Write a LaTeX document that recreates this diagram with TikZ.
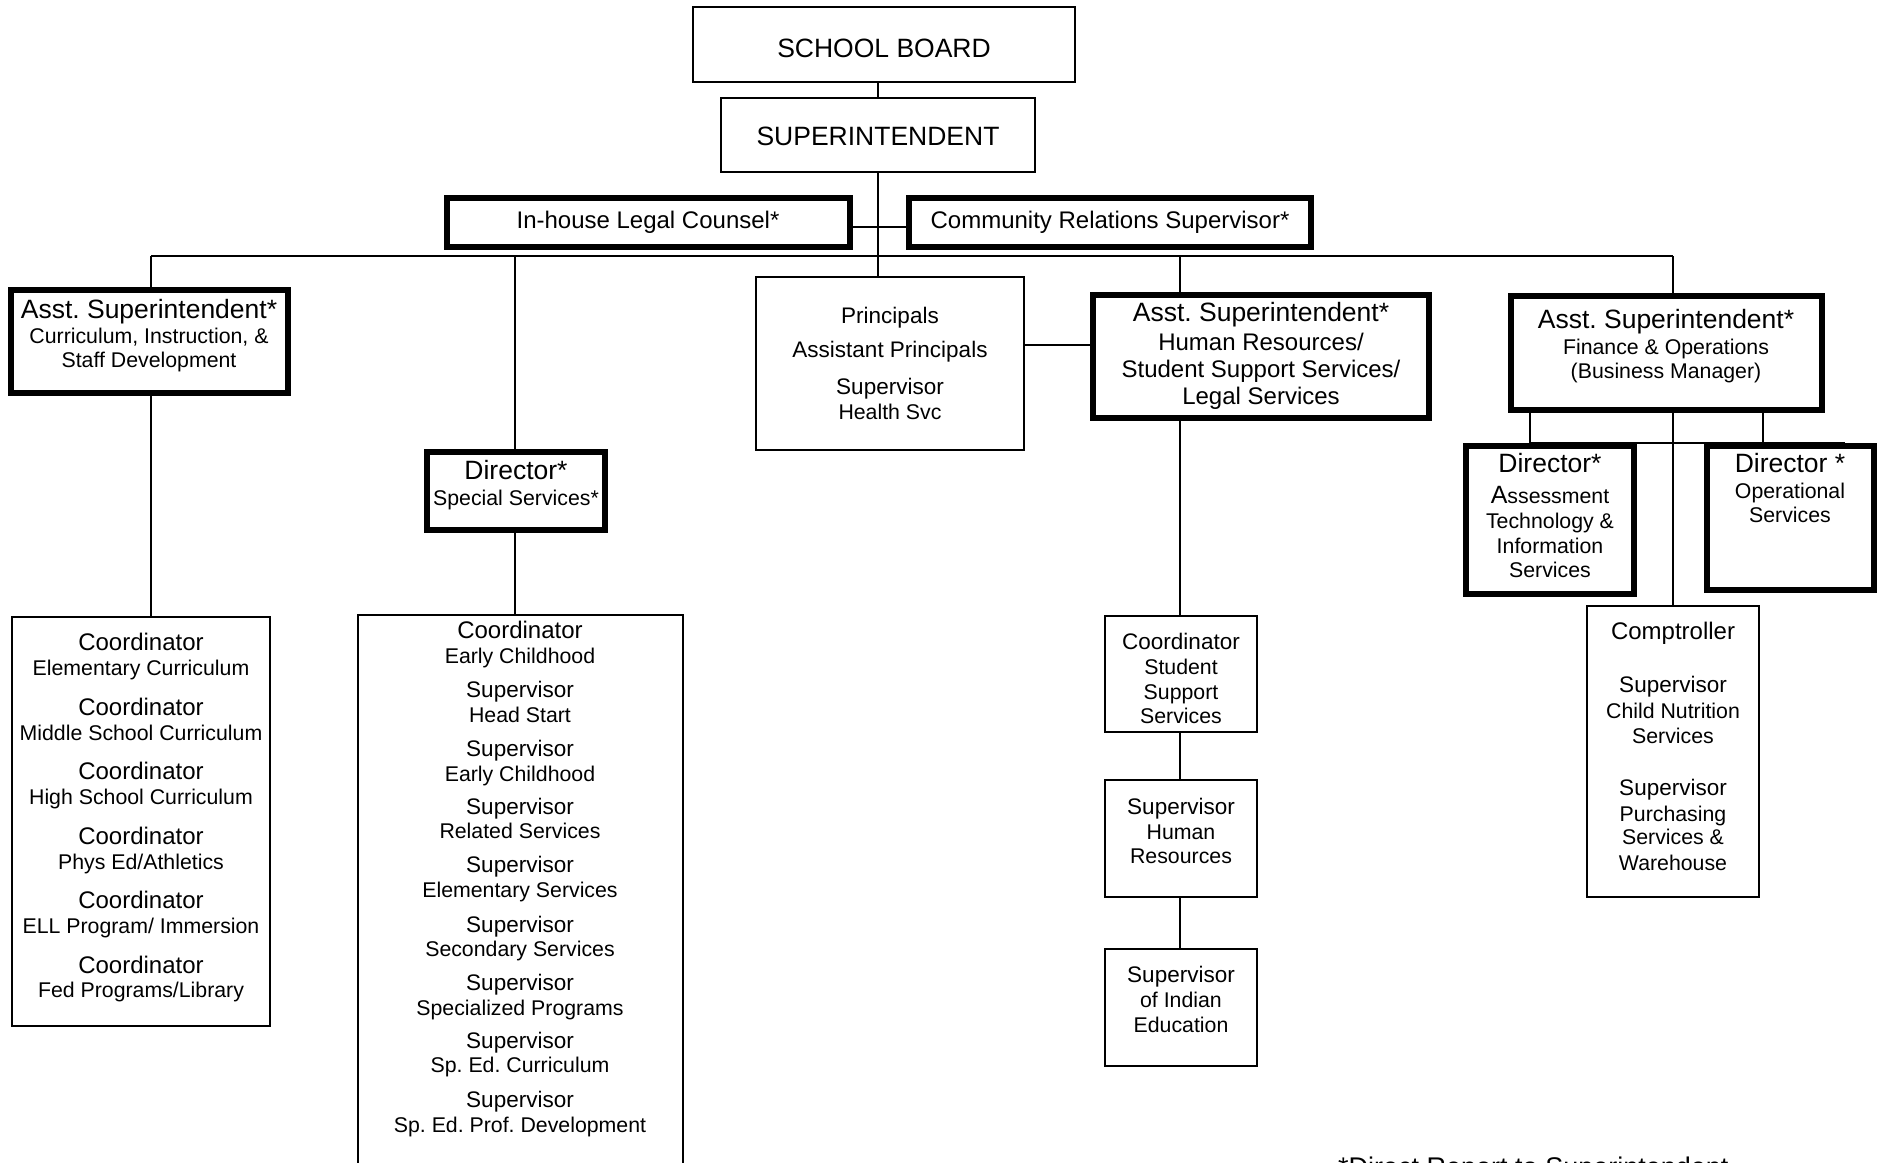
\documentclass[tikz,border=0pt]{standalone}
\usepackage{fontspec}
\setmainfont{Liberation Sans}
\frenchspacing
\begin{document}
\begin{tikzpicture}[x=1pt,y=-1pt,
  thinbox/.style={draw, line width=2pt, inner sep=0pt},
  thickbox/.style={draw, line width=6pt, inner sep=0pt},
  conn/.style={line width=2pt},
  fa/.style={font=\fontsize{26.5}{30}\selectfont, anchor=base, inner sep=0pt},
  fb/.style={font=\fontsize{24}{28}\selectfont, anchor=base, inner sep=0pt},
  fc/.style={font=\fontsize{22.5}{26}\selectfont, anchor=base, inner sep=0pt},
  fd/.style={font=\fontsize{21.3}{25}\selectfont, anchor=base, inner sep=0pt},
  fe/.style={font=\fontsize{27}{31}\selectfont, anchor=base west, inner sep=0pt}]
\newcommand\tline[5]{\node[#1] (#2) at (#3,#4) {#5};}
\useasboundingbox (0,0) rectangle (1882,1162);
\fill[white] (0,0) rectangle (1882,1162);

% ---------- boxes ----------
\node[thinbox, minimum width=382pt, minimum height=75pt] (sb) at (884,44.5) {};
\node[thinbox, minimum width=314pt, minimum height=74pt] (sup) at (878,135) {};
\node[thickbox, minimum width=403pt, minimum height=49pt] (legal) at (648.5,222.5) {};
\node[thickbox, minimum width=402pt, minimum height=49pt] (comm) at (1110,222.5) {};
\node[thickbox, minimum width=277pt, minimum height=103pt] (ci) at (149.5,341.5) {};
\node[thickbox, minimum width=178pt, minimum height=78pt] (dirss) at (516,491) {};
\node[thinbox, minimum width=268pt, minimum height=173pt] (prin) at (890,363.5) {};
\node[thickbox, minimum width=336pt, minimum height=123pt] (hr) at (1261,356.5) {};
\node[thickbox, minimum width=311pt, minimum height=114pt] (fin) at (1666.5,353) {};
\node[thickbox, minimum width=168pt, minimum height=148pt] (ass) at (1550,520) {};
\node[thickbox, minimum width=167pt, minimum height=144pt] (op) at (1790.5,518) {};
\node[thinbox, minimum width=258pt, minimum height=409pt] (lc) at (141,821.5) {};
\node[thinbox, minimum width=325pt, minimum height=584pt] (ss) at (520.5,907) {};
\node[thinbox, minimum width=152pt, minimum height=116pt] (css) at (1181,674) {};
\node[thinbox, minimum width=152pt, minimum height=117pt] (shr) at (1181,838.5) {};
\node[thinbox, minimum width=152pt, minimum height=117pt] (ind) at (1181,1007.5) {};
\node[thinbox, minimum width=172pt, minimum height=291pt] (comp) at (1673,751.5) {};

% ---------- connector points ----------
\coordinate (busL) at (151,256);
\coordinate (busR) at (1673,256);
\coordinate (busS) at (515,256);
\coordinate (busH) at (1180,256);
\coordinate (finL) at (1530,413);
\coordinate (finR) at (1763,413);
\coordinate (finC) at (1673,413);
\coordinate (hzL) at (1530,443);
\coordinate (hzR) at (1845,443);

% ---------- connectors ----------
\draw[conn] (sup.north) -- (sup.north |- sb.south);
\draw[conn] (sup.south) -- (sup.south |- prin.north);
\draw[conn] ([yshift=-4.5pt]legal.east) -- ([yshift=-4.5pt]comm.west);
\draw[conn] (busL) -- (busR);
\draw[conn] (busL) -- (busL |- ci.north);
\draw[conn] (busS) -- (busS |- dirss.north);
\draw[conn] (busH) -- (busH |- hr.north);
\draw[conn] (busR) -- (busR |- fin.north);
\draw[conn] (prin.east |- 0,345) -- (hr.west |- 0,345);
\draw[conn] (ci.south -| busL) -- (busL |- lc.north);
\draw[conn] (dirss.south -| busS) -- (busS |- ss.north);
\draw[conn] (hr.south -| busH) -- (busH |- css.north);
\draw[conn] (css.south -| busH) -- (busH |- shr.north);
\draw[conn] (shr.south -| busH) -- (busH |- ind.north);
\draw[conn] (finC) -- (finC |- comp.north);
\draw[conn] (finL) -- (hzL);
\draw[conn] (finR) -- (finR |- op.north);
\draw[conn] (hzL) -- (hzR);

% ---------- texts ----------
\tline{fa}{tsb}{884}{57}{SCHOOL BOARD}
\tline{fa}{tsup}{878}{145}{SUPERINTENDENT}
\tline{fb}{tlegal}{648}{228}{In-house Legal Counsel*}
\tline{fb}{tcomm}{1110}{228}{Community Relations Supervisor*}

\tline{fa}{tci1}{149}{318}{Asst. Superintendent*}
\tline{fd}{tci2}{149}{343}{Curriculum, Instruction, \&}
\tline{fd}{tci3}{149}{367}{Staff Development}

\tline{fa}{tds1}{516}{479}{Director*}
\tline{fd}{tds2}{516}{505}{Special Services*}

\tline{fc}{tpr1}{890}{323}{Principals}
\tline{fc}{tpr2}{890}{357}{Assistant Principals}
\tline{fc}{tpr3}{890}{394}{Supervisor}
\tline{fd}{tpr4}{890}{419}{Health Svc}

\tline{fa}{thr1}{1261}{321}{Asst. Superintendent*}
\tline{fb}{thr2}{1261}{350}{Human Resources/}
\tline{fb}{thr3}{1261}{377}{Student Support Services/}
\tline{fb}{thr4}{1261}{404}{Legal Services}

\tline{fa}{tfi1}{1666}{328}{Asst. Superintendent*}
\tline{fd}{tfi2}{1666}{354}{Finance \& Operations}
\tline{fd}{tfi3}{1666}{378}{(Business Manager)}

\tline{fa}{tas1}{1550}{472}{Director*}
\tline{fd}{tas2}{1550}{503}{{\fontsize{25}{28}\selectfont A}ssessment}
\tline{fd}{tas3}{1550}{528}{Technology \&}
\tline{fd}{tas4}{1550}{553}{Information}
\tline{fd}{tas5}{1550}{577}{Services}

\tline{fa}{top1}{1790}{472}{Director *}
\tline{fd}{top2}{1790}{498}{Operational}
\tline{fd}{top3}{1790}{522}{Services}

\tline{fb}{tlc1}{141}{650}{Coordinator}
\tline{fd}{tlc2}{141}{675}{Elementary Curriculum}
\tline{fb}{tlc3}{141}{715}{Coordinator}
\tline{fd}{tlc4}{141}{740}{Middle School Curriculum}
\tline{fb}{tlc5}{141}{779}{Coordinator}
\tline{fd}{tlc6}{141}{804}{High School Curriculum}
\tline{fb}{tlc7}{141}{844}{Coordinator}
\tline{fd}{tlc8}{141}{869}{Phys Ed/Athletics}
\tline{fb}{tlc9}{141}{908}{Coordinator}
\tline{fd}{tlc10}{141}{933}{ELL Program/ Immersion}
\tline{fb}{tlc11}{141}{973}{Coordinator}
\tline{fd}{tlc12}{141}{997}{Fed Programs/Library}

\tline{fb}{tss1}{520}{638}{Coordinator}
\tline{fd}{tss2}{520}{663}{Early Childhood}
\tline{fc}{tss3}{520}{697}{Supervisor}
\tline{fd}{tss4}{520}{722}{Head Start}
\tline{fc}{tss5}{520}{756}{Supervisor}
\tline{fd}{tss6}{520}{781}{Early Childhood}
\tline{fc}{tss7}{520}{814}{Supervisor}
\tline{fd}{tss8}{520}{838}{Related Services}
\tline{fc}{tss9}{520}{872}{Supervisor}
\tline{fd}{tss10}{520}{897}{Elementary Services}
\tline{fc}{tss11}{520}{932}{Supervisor}
\tline{fd}{tss12}{520}{956}{Secondary Services}
\tline{fc}{tss13}{520}{990}{Supervisor}
\tline{fd}{tss14}{520}{1015}{Specialized Programs}
\tline{fc}{tss15}{520}{1048}{Supervisor}
\tline{fd}{tss16}{520}{1072}{Sp. Ed. Curriculum}
\tline{fc}{tss17}{520}{1107}{Supervisor}
\tline{fd}{tss18}{520}{1132}{Sp. Ed. Prof. Development}

\tline{fc}{tcs1}{1181}{649}{Coordinator}
\tline{fd}{tcs2}{1181}{674}{Student}
\tline{fd}{tcs3}{1181}{699}{Support}
\tline{fd}{tcs4}{1181}{723}{Services}

\tline{fc}{tsh1}{1181}{814}{Supervisor}
\tline{fd}{tsh2}{1181}{839}{Human}
\tline{fd}{tsh3}{1181}{863}{Resources}

\tline{fc}{tin1}{1181}{982}{Supervisor}
\tline{fd}{tin2}{1181}{1007}{of Indian}
\tline{fd}{tin3}{1181}{1032}{Education}

\tline{fb}{tco1}{1673}{639}{Comptroller}
\tline{fc}{tco2}{1673}{692}{Supervisor}
\tline{fd}{tco3}{1673}{718}{Child Nutrition}
\tline{fd}{tco4}{1673}{743}{Services}
\tline{fc}{tco5}{1673}{795}{Supervisor}
\tline{fd}{tco6}{1673}{821}{Purchasing}
\tline{fd}{tco7}{1673}{844}{Services \&}
\tline{fd}{tco8}{1673}{870}{Warehouse}

\tline{fe}{tfoot}{1338}{1176}{*Direct Report to Superintendent}
\end{tikzpicture}
\end{document}
